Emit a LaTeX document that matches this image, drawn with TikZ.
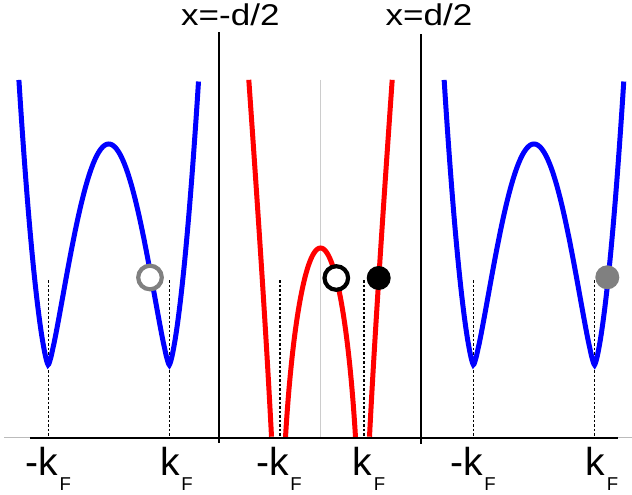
\documentclass[tikz,border=0pt]{standalone}
\usepackage{fontspec}
\setmainfont{Liberation Sans}
\usepackage{graphicx}
\definecolor{bblue}{HTML}{0000FF}
\definecolor{bred}{HTML}{FF0000}
\definecolor{hgray}{HTML}{808080}
\definecolor{agray}{HTML}{BBBBBB}
\definecolor{cgray}{HTML}{CCCCCC}
\newcommand{\kFsub}{\rlap{\kern1.5pt\raisebox{-15.5pt}{\fontsize{18.6}{19}\selectfont F}}}
\tikzset{
  band/.style={line width=5pt,draw=bblue},
  rband/.style={line width=5pt,draw=bred},
  wall/.style={line width=2pt,draw=black},
  kfline/.style={line width=1.6pt,dash pattern=on 2.5pt off 2pt,draw=black},
  hole/.style={circle,draw=#1,fill=white,line width=4.2pt,minimum size=23.6pt,inner sep=0pt},
  elec/.style={circle,fill=#1,minimum size=24pt,inner sep=0pt},
  klbl/.style={anchor=base,inner sep=0pt,font=\fontsize{39}{40}\selectfont},
  ttl/.style={anchor=base west,inner sep=0pt,font=\fontsize{30}{32}\selectfont},
  declare function={
    wband(\u)=pow(abs(\u*\u-1)+0.00001,1.36);
    rin(\r)=189-117*(\r/42)*(\r/42)+91*ln(1-(\r/42)*(\r/42));
    rout(\r)=12.6*(\r-42)+49.2*ln((\r-42)/42);
  },
}
\begin{document}
\begin{tikzpicture}[x=1pt,y=-1pt]
  \useasboundingbox (0,0) rectangle (632,495);
  % axis and centre line
  \draw[cgray,line width=1.2pt] (320.5,80) -- (320.5,437);
  \draw[agray,line width=1pt] (4,437.5) -- (632,437.5);
  % k_F markers
  \foreach \kx in {48.3,169.3,280,364,473.5,594.5} { \draw[kfline] (\kx,280) -- (\kx,437); }
  % left and right bands
  \foreach \cx in {108.75,534} {
    \draw[band] plot[domain=-1.4852:1.4852,samples=161,smooth] ({\cx+60.5*\x},{365-221*wband(\x)});
  }
  % middle band
  \begin{scope}
    \clip (0,0) rectangle (632,437.5);
    \draw[rband] plot[domain=-35:35,samples=101,smooth] ({320.5+\x},{437-rin(\x)});
    \draw[rband] plot[domain=49:71.7,samples=80,smooth] ({320.5+\x},{437-rout(\x)});
    \draw[rband] plot[domain=49:71.7,samples=80,smooth] ({320.5-\x},{437-rout(\x)});
  \end{scope}
  \draw[line width=2.5pt] (30,438) -- (618,438);
  % interfaces
  \node[ttl] (tL) at (181,25.3) {\scalebox{1.167}[1]{x=-d/2}};
  \node[ttl] (tR) at (385.5,25.3) {\scalebox{1.167}[1]{x=d/2}};
  \draw[wall] (219,32.3) -- (219,443);
  \draw[wall] (421,34.3) -- (421,444);
  % holes and electrons
  \node[hole=hgray] (hL) at (150,277.5) {};
  \node[hole=black] (hM) at (336.3,278) {};
  \node[elec=black] (eM) at (378.7,278) {};
  \node[elec=hgray] (eR) at (607.3,277.3) {};
  % momentum labels
  \node[klbl] (kL1) at (48.3,475) {\llap{-}k\kFsub};
  \node[klbl] (kL2) at (170,475) {k\kFsub};
  \node[klbl] (kM1) at (279,475) {\llap{-}k\kFsub};
  \node[klbl] (kM2) at (362.5,475) {k\kFsub};
  \node[klbl] (kR1) at (473,475) {\llap{-}k\kFsub};
  \node[klbl] (kR2) at (595.5,475) {k\kFsub};
\end{tikzpicture}
\end{document}
